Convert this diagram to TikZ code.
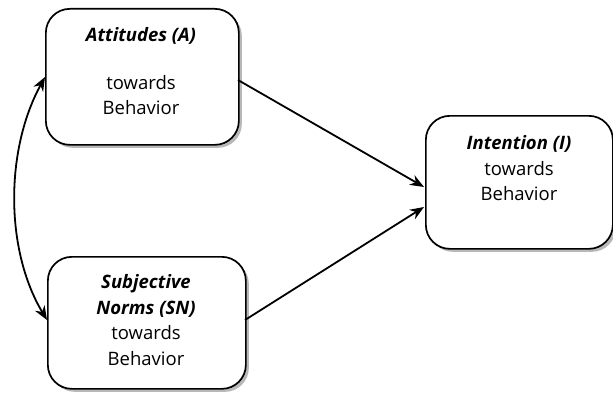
\documentclass[tikz,border=0pt]{standalone}
\usepackage{fontspec}
\setmainfont{Open Sans}
\usetikzlibrary{shadows,arrows.meta}
\begin{document}
\begin{tikzpicture}[x=1pt,y=-1pt,
  box/.style={draw=black, line width=1.7pt, fill=white, rounded corners=24pt,
    drop shadow={shadow xshift=3pt, shadow yshift=-3pt, fill=gray!70, opacity=0.8},
    inner sep=0pt},
  label/.style={font=\fontsize{18.5}{25.5}\selectfont, align=center, anchor=north},
  link/.style={line width=1.8pt, -{Stealth[length=14pt,width=11pt]}}]
\useasboundingbox (0,0) rectangle (613,396);
% boxes
\node[box, minimum width=193pt, minimum height=136pt, anchor=north west] (A) at (45,8) {};
\node[box, minimum width=198pt, minimum height=132pt, anchor=north west] (SN) at (47,256) {};
\node[box, minimum width=187pt, minimum height=133pt, anchor=north west] (I) at (425,115) {};
% texts
\node[label] (At) at (141,24)
  {\textbf{\textit{Attitudes (A)}}\\[22pt]towards\\Behavior};
\node[label] (St) at (146,271)
  {\textbf{\textit{Subjective}}\\\textbf{\textit{Norms (SN)}}\\towards\\Behavior};
\node[label] (It) at (519,132)
  {\textbf{\textit{Intention (I)}}\\towards\\Behavior};
% connectors
\coordinate (Aout) at (238,80);
\coordinate (SNout) at (245,320);
\coordinate (Iin1) at (424,187);
\coordinate (Iin2) at (424,207);
\draw[link] (Aout) -- (Iin1);
\draw[link] (SNout) -- (Iin2);
\coordinate (Ain) at (45,77);
\coordinate (SNin) at (47,320);
\draw[line width=1.8pt, {Stealth[length=14pt,width=11pt]}-{Stealth[length=14pt,width=11pt]}]
  (Ain) .. controls (5,150) and (5,250) .. (SNin);
\end{tikzpicture}
\end{document}
